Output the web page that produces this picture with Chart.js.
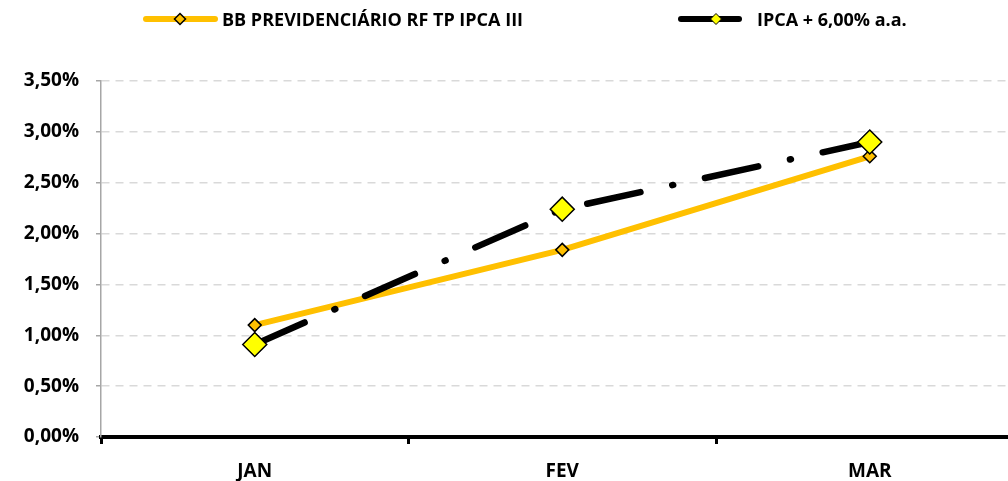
<!DOCTYPE html>
<html>
<head>
<meta charset="utf-8">
<script src="https://cdn.jsdelivr.net/npm/chart.js@4/dist/chart.umd.min.js"></script>
<style>
  html, body { margin: 0; padding: 0; background: #fff; overflow: hidden; width: 1008px; height: 481px; }
  #wrap { position: relative; width: 1008px; height: 481px; overflow: hidden; }
  #c { position: absolute; left: 0; top: 0; }
  .leg { position: absolute; top: 0; height: 38px; line-height: 38px; font-family: "Open Sans", sans-serif; font-weight: 700; font-size: 18px; color: #000; white-space: nowrap; }
  #legsvg { position: absolute; left: 0; top: 0; }
</style>
</head>
<body>
<div id="wrap">
  <canvas id="c" width="1037" height="481"></canvas>
  <svg id="legsvg" width="1008" height="40">
    <line x1="146" y1="19" x2="215" y2="19" stroke="#FFC000" stroke-width="6" stroke-linecap="round"/>
    <polygon points="180,13.5 185.5,19 180,24.5 174.5,19" fill="#FFC000" stroke="#000" stroke-width="1.5"/>
    <line x1="681" y1="19" x2="739" y2="19" stroke="#000" stroke-width="6" stroke-linecap="round"/>
    <polygon points="716,13.5 721.5,19 716,24.5 710.5,19" fill="#FFFF00" stroke="#000" stroke-width="1"/>
  </svg>
  <div class="leg" style="left:222px">BB PREVIDENCIÁRIO RF TP IPCA III</div>
  <div class="leg" style="left:757px">IPCA + 6,00% a.a.</div>
</div>
<script>
const categories = ["JAN", "FEV", "MAR"];
const seriesNames = ["BB PREVIDENCIÁRIO RF TP IPCA III", "IPCA + 6,00% a.a."];
const bbValues = [1.10, 1.84, 2.76];
const ipcaValues = [0.91, 2.24, 2.90];
const yTicks = [0, 0.5, 1.0, 1.5, 2.0, 2.5, 3.0, 3.5];

const fontFamily = '"Open Sans", sans-serif';

new Chart(document.getElementById('c'), {
  type: 'line',
  data: {
    labels: categories,
    datasets: [
      {
        label: seriesNames[0],
        data: bbValues,
        order: 1,
        borderColor: '#FFC000',
        borderWidth: 6,
        borderCapStyle: 'round',
        borderJoinStyle: 'round',
        tension: 0,
        pointStyle: 'rectRot',
        pointRadius: 6.5,
        pointBackgroundColor: '#FFC000',
        pointBorderColor: '#000',
        pointBorderWidth: 1.5
      },
      {
        label: seriesNames[1],
        data: ipcaValues,
        order: 0,
        borderColor: '#000',
        borderWidth: 6.5,
        borderCapStyle: 'round',
        borderJoinStyle: 'round',
        borderDash: [54.5, 32.5, 1, 32.5],
        tension: 0,
        pointStyle: 'rectRot',
        pointRadius: 12,
        pointBackgroundColor: '#FFFF00',
        pointBorderColor: '#000',
        pointBorderWidth: 1.5
      }
    ]
  },
  options: {
    responsive: false,
    animation: false,
    events: [],
    layout: { padding: { top: 81, right: 8, bottom: 0, left: 0 } },
    plugins: { legend: { display: false }, tooltip: { enabled: false } },
    scales: {
      x: {
        offset: true,
        grid: {
          offset: true,
          drawOnChartArea: false,
          drawTicks: true,
          tickLength: 7,
          tickWidth: 3,
          tickColor: '#000'
        },
        border: { display: true, color: '#000', width: 4 },
        ticks: {
          color: '#000',
          padding: 16,
          font: { family: fontFamily, weight: 'bold', size: 19 }
        },
        afterFit: (s) => { s.height = 44; }
      },
      y: {
        min: 0,
        max: 3.5,
        afterBuildTicks: (s) => { s.ticks = yTicks.map(v => ({ value: v })); },
        grid: {
          color: '#d9d9d9',
          lineWidth: 1.5,
          tickLength: 5,
          tickColor: '#a6a6a6',
          tickWidth: 1.5,
          tickBorderDash: []
        },
        border: { display: true, color: '#a6a6a6', width: 1.5, dash: [8, 6] },
        ticks: {
          color: '#000',
          padding: 17,
          font: { family: fontFamily, weight: 'bold', size: 19 },
          callback: (v) => Number(v).toFixed(2).replace('.', ',') + '%'
        },
        afterFit: (s) => { s.width = 101; }
      }
    }
  }
});
</script>
</body>
</html>
